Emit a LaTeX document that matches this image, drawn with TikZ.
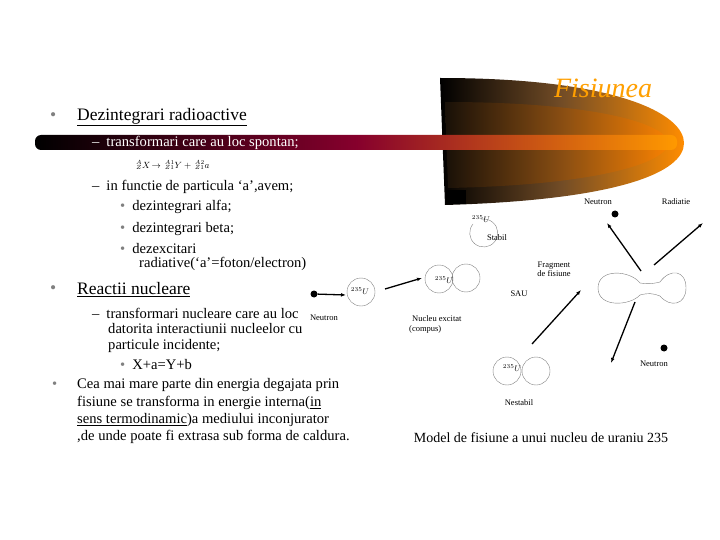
\documentclass[tikz,border=0pt]{standalone}
\usepackage{fontspec}
\setmainfont{Liberation Serif}
\usetikzlibrary{arrows.meta}
\begin{document}
\begin{tikzpicture}[x=1pt,y=-1pt,
  t/.style={anchor=west,inner sep=0pt,font=\fontsize{14.6}{15}\selectfont},
  big/.style={anchor=west,inner sep=0pt,font=\fontsize{17.5}{19}\selectfont},
  sm/.style={inner sep=0pt,font=\fontsize{8.5}{9}\selectfont},
  nuc/.style={draw=gray,thin},
  arr/.style={-{Latex[length=5pt]},line width=1.3pt},
  dot/.style={circle,fill=black,inner sep=0pt,minimum size=7pt}]
\useasboundingbox (0,0) rectangle (720,540);
% dome
\shade[left color=black,right color=orange!90!yellow,middle color=brown!60!black]
  (440,78) .. controls (620,78) and (684,115) .. (684,143) .. controls (684,172) and (620,200) .. (445,205) -- cycle;
\shade[left color=black!80!brown,right color=orange,opacity=0.6]
  (445,102) .. controls (600,102) and (668,125) .. (668,143) .. controls (668,162) and (600,185) .. (448,188) -- cycle;
\fill (446,190) rectangle (466,204);
% bar
\shade[rounded corners=6pt,left color=black,right color=orange!80!yellow,middle color=purple!70!black]
  (35,135) rectangle (677,150);
\node[inner sep=0pt,font=\itshape\fontsize{28}{30}\selectfont,text=orange!75!yellow] (title) at (603,88) {Fisiunea};
% left text
\node[big] (b1) at (50,117) {\textcolor{gray}{•}};
\node[big] (h1) at (77,117) {\underline{Dezintegrari radioactive}};
\node[t,text=white] (d1) at (92,143) {–\hspace{7pt}transformari care au loc spontan;};
\node[anchor=west,inner sep=0pt,font=\fontsize{9}{9}\selectfont] (f1) at (136,165) {$^{A}_{Z}X\!\rightarrow\,^{A1}_{Z1}Y+\,^{A2}_{Z1}a$};
\node[t] (d2) at (92,187) {–\hspace{7pt}in functie de particula ‘a’,avem;};
\node[t] (s1) at (120,207) {\textcolor{gray}{•}\hspace{7pt}dezintegrari alfa;};
\node[t] (s2) at (120,229) {\textcolor{gray}{•}\hspace{7pt}dezintegrari beta;};
\node[t] (s3) at (120,249) {\textcolor{gray}{•}\hspace{7pt}dezexcitari};
\node[t] (s3b) at (139,264) {radiative(‘a’=foton/electron)};
\node[big] (b2) at (50,290) {\textcolor{gray}{•}};
\node[big] (h2) at (77,290) {\underline{Reactii nucleare}};
\node[t] (d3) at (92,313) {–\hspace{7pt}transformari nucleare care au loc};
\node[t] (d3b) at (108,329) {datorita interactiunii nucleelor cu};
\node[t] (d3c) at (108,346) {particule incidente;};
\node[t] (s4) at (120,365) {\textcolor{gray}{•}\hspace{7pt}X+a=Y+b};
\node[t] (b3) at (52,385) {\textcolor{gray}{•}};
\node[t] (p1) at (77,385) {Cea mai mare parte din energia degajata prin};
\node[t] (p2) at (77,403) {fisiune se transforma in energie interna(\underline{in}};
\node[t] (p3) at (77,420) {\underline{sens termodinamic})a mediului inconjurator};
\node[t] (p4) at (77,437) {,de unde poate fi extrasa sub forma de caldura.};
% diagram
\node[dot] (n0) at (314,294) {};
\draw[nuc] (361,292) circle (14);
\node[sm] (u1) at (360,291) {$^{235}U$};
\draw[arr] (n0) -- (346,295);
\node[sm] (ln0) at (324,318) {Neutron};
\coordinate (a1s) at (385,289); \coordinate (a1e) at (422,278);
\draw[arr] (a1s) -- (a1e);
\draw[nuc] (439,279) circle (14) (466,278) circle (14);
\node[sm] (u2) at (444,280) {$^{235}U$};
\node[sm,anchor=west] (lc) at (412,319) {Nucleu excitat};
\node[sm,anchor=west] (lc2) at (409,329) {(compus)};
\draw[nuc] (473,224) arc (220:-100:14);
\node[sm] (u3) at (481,219) {$^{235}U$};
\node[sm] (ls) at (497,238) {Stabil};
\node[sm] (sau) at (519,294) {SAU};
\draw[nuc] (507,371) circle (14) (536,371) circle (14);
\node[sm] (u4) at (512,368) {$^{235}U$};
\node[sm] (ln) at (519,403) {Nestabil};
\coordinate (a2s) at (532,344); \coordinate (a2e) at (581,290);
\draw[arr] (a2s) -- (a2e);
\node[sm,align=center] (lf) at (554,269) {Fragment\\de fisiune};
% dumbbell
\draw[nuc] (640,283) .. controls (630,270) and (598,268) .. (598,288) .. controls (598,308) and (630,306) .. (640,295)
  .. controls (648,293) and (652,293) .. (660,296) .. controls (670,308) and (686,305) .. (686,288)
  .. controls (686,270) and (670,268) .. (660,282) .. controls (652,284) and (648,284) .. (640,283);
\coordinate (c1) at (641,271); \coordinate (c2) at (654,265); \coordinate (c3) at (635,302);
\coordinate (e1) at (607,223); \coordinate (e2) at (703,223); \coordinate (e3) at (611,363);
\draw[arr] (c1) -- (e1);
\draw[arr] (c2) -- (e2);
\draw[arr] (c3) -- (e3);
\node[dot] (n1) at (615,214) {};
\node[sm] (l1) at (598,202) {Neutron};
\node[sm] (l2) at (676,202) {Radiatie};
\node[dot] (n2) at (664,348) {};
\node[sm] (l3) at (654,364) {Neutron};
\node[inner sep=0pt,font=\fontsize{14}{15}\selectfont] (cap) at (541,438) {Model de fisiune a unui nucleu de uraniu 235};
\end{tikzpicture}
\end{document}
